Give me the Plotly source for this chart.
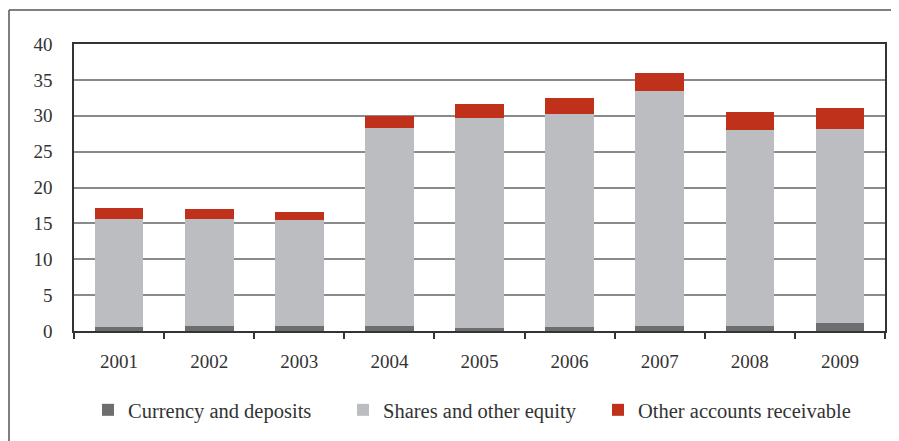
import plotly.graph_objects as go

years = ["2001", "2002", "2003", "2004", "2005", "2006", "2007", "2008", "2009"]
currency_deposits = [0.55, 0.7, 0.7, 0.7, 0.45, 0.55, 0.7, 0.7, 1.1]
shares_equity = [15.05, 14.9, 14.8, 27.6, 29.25, 29.65, 32.7, 27.3, 27.1]
other_receivable = [1.55, 1.4, 1.15, 1.7, 1.9, 2.3, 2.6, 2.5, 2.9]
y_ticks = [0, 5, 10, 15, 20, 25, 30, 35, 40]

FONT = "Liberation Serif"
TXT = "#333333"

fig = go.Figure()
fig.add_bar(x=years, y=currency_deposits, name="Currency and deposits",
            marker=dict(color="#6d6e70", line=dict(width=0)))
fig.add_bar(x=years, y=shares_equity, name="Shares and other equity",
            marker=dict(color="#bcbdc0", line=dict(width=0)))
fig.add_bar(x=years, y=other_receivable, name="Other accounts receivable",
            marker=dict(color="#c0311c", line=dict(width=0)))

# page offset of the plot div (default body margin)
OFF = 8
W, H = 899 - OFF, 441 - OFF
L = 74 - OFF
T = 44 - OFF
R = W - (885 - OFF)
B = H - (331 - OFF)
pw, ph = W - L - R, H - T - B

def px_x(p):  # page pixel -> paper
    return (p - OFF - L) / pw

def px_y(p):
    return (H - B - (p - OFF)) / ph

fig.update_layout(
    width=W, height=H,
    barmode="stack", bargap=0.46,
    margin=dict(l=L, r=R, t=T, b=B, pad=0, autoexpand=False),
    plot_bgcolor="white", paper_bgcolor="white",
    font=dict(family=FONT, color=TXT, size=19),
    showlegend=True,
    legend=dict(orientation="h", x=px_x(88), xanchor="left", y=px_y(410), yanchor="middle",
                font=dict(family=FONT, size=20.5, color=TXT),
                entrywidth=210, entrywidthmode="pixels", traceorder="normal",
                bgcolor="rgba(0,0,0,0)"),
    xaxis=dict(type="category", showline=True, linecolor="#333333", linewidth=1.5,
               mirror=True, ticks="outside", tickson="boundaries", ticklen=6,
               tickcolor="#333333", tickwidth=1.5, showgrid=False, automargin=False,
               tickfont=dict(family=FONT, size=19, color=TXT), ticklabelstandoff=12),
    yaxis=dict(range=[0, 40], tickvals=y_ticks, showline=True, linecolor="#333333",
               linewidth=1.5, mirror=True, showgrid=True, gridcolor="#8a8a8a",
               gridwidth=1.5, zeroline=False, ticks="", automargin=False,
               tickfont=dict(family=FONT, size=19, color=TXT), ticklabelstandoff=16),
    shapes=[
        dict(type="line", xref="paper", yref="paper", x0=px_x(9), x1=px_x(899),
             y0=px_y(10), y1=px_y(10), line=dict(color="#555555", width=1.5)),
        dict(type="line", xref="paper", yref="paper", x0=px_x(9), x1=px_x(9),
             y0=px_y(10), y1=px_y(441), line=dict(color="#555555", width=1.5)),
    ],
)

fig.write_html("out.html")
